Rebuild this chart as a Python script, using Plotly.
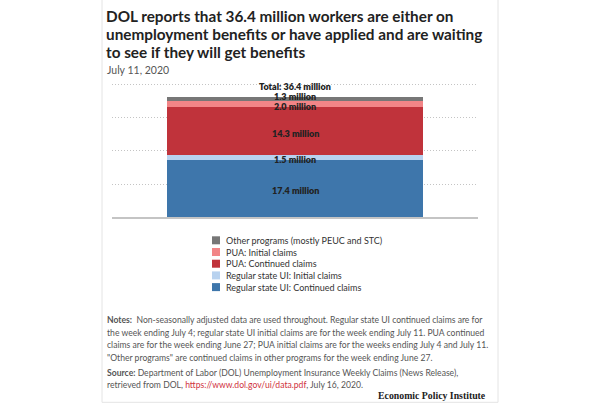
import plotly.graph_objects as go

# ---- data ----
series_names = [
    "Regular state UI: Continued claims",
    "Regular state UI: Initial claims",
    "PUA: Continued claims",
    "PUA: Initial claims",
    "Other programs (mostly PEUC and STC)",
]
series_values = [17.4, 1.5, 14.3, 2.0, 1.3]
series_colors = ["#3e76ab", "#b8d2ef", "#c0333b", "#f28587", "#777777"]
total_value = 36.4
category = ["Total"]

title_lines = [
    "DOL reports that 36.4 million workers are either on",
    "unemployment benefits or have applied and are waiting",
    "to see if they will get benefits",
]
date_text = "July 11, 2020"
note_lines = [
    "<b>Notes:</b>  Non-seasonally adjusted data are used throughout. Regular state UI continued claims are for",
    "the week ending July 4; regular state UI initial claims are for the week ending July 11. PUA continued",
    "claims are for the week ending June 27; PUA initial claims are for the weeks ending July 4 and July 11.",
    "\"Other programs\" are continued claims in other programs for the week ending June 27.",
]
source_lines = [
    "<b>Source:</b> Department of Labor (DOL) Unemployment Insurance Weekly Claims (News Release),",
    "retrieved from DOL, <span style='color:#d0323e'>https://www.dol.gov/ui/data.pdf</span>, July 16, 2020.",
]

# ---- layout geometry (pixels) ----
W, H = 600, 408
YMAX = 40.6
PL, PR, PB = 112, 478, 216.7
PT = PB - 3.3 * YMAX


def px(x):
    return (x - PL) / (PR - PL)


def py(y):
    return (PB - y) / (PB - PT)


FONT = "Lato"
fig = go.Figure()
for name, val, col in zip(series_names, series_values, series_colors):
    fig.add_trace(go.Bar(x=category, y=[val], name=name, marker=dict(color=col, line=dict(width=0)),
                         width=0.7, showlegend=False, hoverinfo="name+y"))

annotations = []
# segment labels
label_shift = [-2.5, -2, -2, -2, 2.5]
LBL = dict(family=FONT, size=9, color="#222222", weight=800)
base = 0.0
for val, sh in zip(series_values, label_shift):
    annotations.append(dict(x=category[0], y=base + val / 2, xref="x", yref="y", borderpad=0,
                            text=f"{val:.1f} million", showarrow=False, yshift=sh, font=LBL))
    base += val
annotations.append(dict(x=category[0], y=total_value, xref="x", yref="y", borderpad=0,
                        text=f"Total: {total_value:.1f} million", showarrow=False, yshift=10.5, font=LBL))

# title
for i, line in enumerate(title_lines):
    annotations.append(dict(x=px(104), y=py(16 + 18 * i), xref="paper", yref="paper", xanchor="left",
                            yanchor="middle", text=f"<b>{line}</b>", showarrow=False,
                            font=dict(family=FONT, size=15.3, color="#222222")))
annotations.append(dict(x=px(105), y=py(70), xref="paper", yref="paper", xanchor="left", yanchor="middle",
                        text=date_text, showarrow=False, font=dict(family=FONT, size=10.5, color="#555555")))

# legend (manual, top item = last series)
shapes = []
for i, (name, col) in enumerate(zip(series_names[::-1], series_colors[::-1])):
    yc = 240 + 11.7 * i
    shapes.append(dict(type="rect", xref="paper", yref="paper", x0=px(212), x1=px(220),
                       y0=py(yc + 4), y1=py(yc - 4), fillcolor=col, line=dict(width=0)))
    annotations.append(dict(x=px(223.5), y=py(yc), xref="paper", yref="paper", xanchor="left",
                            yanchor="middle", text=name, showarrow=False,
                            font=dict(family=FONT, size=9.0, color="#333333")))

# notes & source
NOTE = dict(family=FONT, size=8.6, color="#555555")
for i, line in enumerate(note_lines):
    annotations.append(dict(x=px(105), y=py(320 + 12.5 * i), xref="paper", yref="paper", xanchor="left",
                            yanchor="middle", text=line, showarrow=False, font=NOTE))
for i, line in enumerate(source_lines):
    annotations.append(dict(x=px(105), y=py(372.5 + 12 * i), xref="paper", yref="paper", xanchor="left",
                            yanchor="middle", text=line, showarrow=False, font=NOTE))
annotations.append(dict(x=px(488), y=py(395), xref="paper", yref="paper", xanchor="right", yanchor="middle",
                        text="<b>Economic Policy Institute</b>", showarrow=False,
                        font=dict(family="Liberation Serif", size=9.8, color="#222222")))

# card border
shapes.append(dict(type="rect", xref="paper", yref="paper", x0=px(102), x1=px(498), y0=py(402), y1=py(-5),
                   line=dict(color="#e4e4e4", width=1), fillcolor="rgba(0,0,0,0)", layer="below"))

fig.update_layout(
    width=W, height=H, barmode="stack",
    margin=dict(l=PL, r=W - PR, t=PT, b=H - PB, pad=0),
    paper_bgcolor="white", plot_bgcolor="white",
    annotations=annotations, shapes=shapes,
    xaxis=dict(showticklabels=False, showgrid=False, zeroline=False, showline=True,
               linecolor="#c4c4c4", linewidth=2, fixedrange=True),
    yaxis=dict(range=[0, YMAX], dtick=10, showticklabels=False, showgrid=True, gridcolor="#c4c4c4",
               griddash="1px,2px", gridwidth=1, zeroline=False, showline=False, fixedrange=True),
    font=dict(family=FONT),
)

fig.write_html("out.html")
